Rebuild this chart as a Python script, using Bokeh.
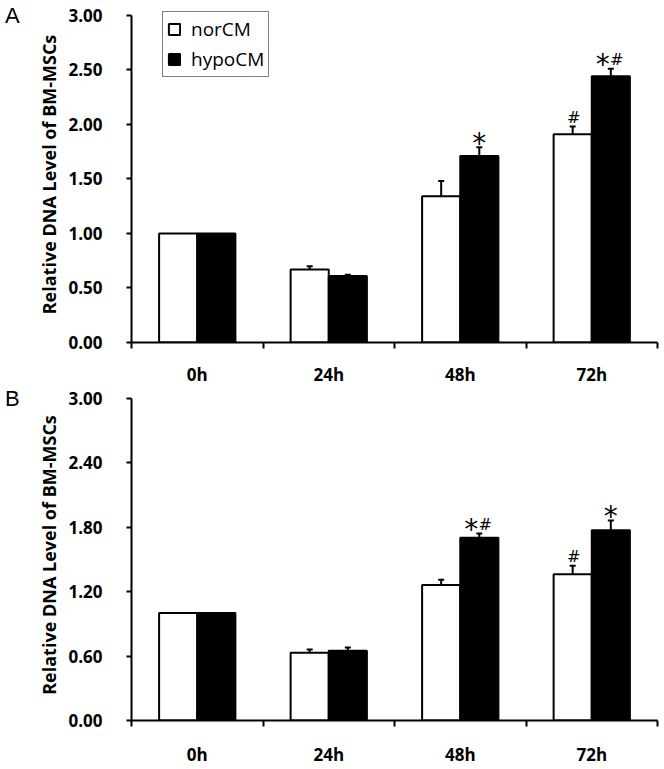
from bokeh.plotting import figure
from bokeh.models import (ColumnDataSource, Whisker, TeeHead, Legend, LegendItem,
                          FixedTicker, NumeralTickFormatter, Range1d, Div)
from bokeh.layouts import column, row
from bokeh.embed import file_html
from bokeh.resources import INLINE
from bokeh.core.properties import value

categories = ["0h", "24h", "48h", "72h"]
series_names = ["norCM", "hypoCM"]
y_title = "Relative DNA Level of BM-MSCs"

# Panel A
A_nor = [1.00, 0.67, 1.34, 1.91]
A_nor_err = [0.00, 0.03, 0.14, 0.07]
A_nor_sig = ["", "", "", "#"]
A_hypo = [1.00, 0.61, 1.71, 2.44]
A_hypo_err = [0.00, 0.01, 0.08, 0.07]
A_hypo_sig = ["", "", "*", "*#"]
A_ticks = [0.0, 0.5, 1.0, 1.5, 2.0, 2.5, 3.0]

# Panel B
B_nor = [1.00, 0.63, 1.26, 1.36]
B_nor_err = [0.00, 0.03, 0.05, 0.08]
B_nor_sig = ["", "", "", "#"]
B_hypo = [1.00, 0.65, 1.70, 1.77]
B_hypo_err = [0.00, 0.03, 0.04, 0.09]
B_hypo_sig = ["", "", "*#", "*"]
B_ticks = [0.0, 0.6, 1.2, 1.8, 2.4, 3.0]

Y_MAX = 3.0          # axis end
Y_VIEW_TOP = 3.08    # a little headroom above the axis end (for the legend)

BAR_W = 0.29
TICK_FONT = "Open Sans"
DIV_W = 30
FIG_W = 632


def make_panel(nor, nor_err, nor_sig, hypo, hypo_err, hypo_sig, yticks,
               height, border_top, border_bottom, standoff, legend):
    p = figure(width=FIG_W, height=height, x_range=Range1d(0, len(categories)),
               y_range=Range1d(0, Y_VIEW_TOP), output_backend="svg", toolbar_location=None,
               min_border_left=101, min_border_right=5,
               min_border_top=border_top, min_border_bottom=border_bottom)
    p.outline_line_color = None
    p.grid.visible = False
    p.background_fill_color = "white"

    centers = [i + 0.5 for i in range(len(categories))]
    renderers = []
    for k, (vals, errs, sigs, fill) in enumerate(
            [(nor, nor_err, nor_sig, "white"), (hypo, hypo_err, hypo_sig, "black")]):
        off = (-0.5 + k) * BAR_W
        xs = [c + off for c in centers]
        src = ColumnDataSource(dict(x=xs, top=vals))
        r = p.vbar(x="x", top="top", width=BAR_W, bottom=0, source=src,
                   fill_color=fill, line_color="black", line_width=2)
        renderers.append(r)
        ex = [x for x, e in zip(xs, errs) if e > 0]
        eu = [v + e for v, e in zip(vals, errs) if e > 0]
        el = [v - e for v, e in zip(vals, errs) if e > 0]
        esrc = ColumnDataSource(dict(base=ex, upper=eu, lower=el))
        w = Whisker(source=esrc, base="base", upper="upper", lower="lower",
                    dimension="height", line_color="black", line_width=2,
                    upper_head=TeeHead(size=6, line_width=2, line_color="black"),
                    lower_head=TeeHead(size=6, line_width=2, line_color="black"))
        p.add_layout(w)
        # significance marks
        sx, sy, so = [], [], []
        hx, hy, ho = [], [], []
        for x, v, e, s in zip(xs, vals, errs, sigs):
            both = ("*" in s) and ("#" in s)
            if "*" in s:
                sx.append(x); sy.append(v + e); so.append(-8 if both else 0)
            if "#" in s:
                hx.append(x); hy.append(v + e); ho.append(6 if both else 1)
        p.text(x="x", y="y", text=value("*"), x_offset="xo", y_offset=-4,
               source=ColumnDataSource(dict(x=sx, y=sy, xo=so)),
               text_font=value("DejaVu Sans"), text_font_size="28px",
               text_align="center", text_baseline="alphabetic", text_color="black")
        p.text(x="x", y="y", text=value("#"), x_offset="xo", y_offset=-9,
               source=ColumnDataSource(dict(x=hx, y=hy, xo=ho)),
               text_font=value("DejaVu Sans"), text_font_size="16px",
               text_align="center", text_baseline="alphabetic", text_color="black")

    # x axis: labels at centres, ticks between categories
    xa = p.xaxis[0]
    xa.ticker = FixedTicker(ticks=centers, minor_ticks=list(range(len(categories) + 1)))
    xa.major_label_overrides = {c: lab for c, lab in zip(centers, categories)}
    xa.major_tick_out = 0
    xa.major_tick_in = 0
    xa.minor_tick_out = 6
    xa.minor_tick_in = 0
    xa.minor_tick_line_width = 2
    xa.minor_tick_line_color = "black"
    xa.axis_line_width = 2
    xa.axis_line_color = "black"
    xa.major_label_text_font = TICK_FONT
    xa.major_label_text_font_style = "bold"
    xa.major_label_text_font_size = "17px"
    xa.major_label_text_color = "black"
    xa.major_label_standoff = standoff

    ya = p.yaxis[0]
    ya.bounds = (0, Y_MAX)
    ya.ticker = FixedTicker(ticks=yticks, minor_ticks=[])
    ya.formatter = NumeralTickFormatter(format="0.00")
    ya.major_tick_out = 5
    ya.major_tick_in = 0
    ya.major_tick_line_width = 2
    ya.major_tick_line_color = "black"
    ya.axis_line_width = 2
    ya.axis_line_color = "black"
    ya.major_label_text_font = TICK_FONT
    ya.major_label_text_font_style = "bold"
    ya.major_label_text_font_size = "17px"
    ya.major_label_text_color = "black"
    ya.major_label_standoff = 24
    ya.axis_label = y_title
    ya.axis_label_text_font = TICK_FONT
    ya.axis_label_text_font_style = "bold"
    ya.axis_label_text_font_size = "18px"
    ya.axis_label_text_color = "black"
    ya.axis_label_standoff = 4

    if legend:
        lg = Legend(items=[LegendItem(label=n, renderers=[r]) for n, r in zip(series_names, renderers)],
                    location=(31, 265), orientation="vertical",
                    glyph_width=14, glyph_height=14, label_standoff=10,
                    padding=4, spacing=4, margin=0,
                    label_text_font="Open Sans", label_text_font_size="19px",
                    label_text_color="black", label_height=20,
                    border_line_color="black", border_line_width=1.5,
                    background_fill_color="white", background_fill_alpha=1)
        p.add_layout(lg)
    return p


def letter_div(letter, height, pad_top):
    html = ('<div style="font-family:\'Liberation Sans\'; font-size:22px; line-height:1; '
            'color:black; padding:%dpx 0 0 5px; margin:0;">%s</div>' % (pad_top, letter))
    return Div(text=html, width=DIV_W, height=height, margin=0)


HA, HB = 388, 380
pA = make_panel(A_nor, A_nor_err, A_nor_sig, A_hypo, A_hypo_err, A_hypo_sig, A_ticks,
                height=HA, border_top=6, border_bottom=46, standoff=14, legend=True)
pB = make_panel(B_nor, B_nor_err, B_nor_sig, B_hypo, B_hypo_err, B_hypo_sig, B_ticks,
                height=HB, border_top=1, border_bottom=47, standoff=16, legend=False)

layout = column(row(letter_div("A", HA, 5), pA, spacing=0),
                row(letter_div("B", HB, 0), pB, spacing=0), spacing=0)
open("out.html", "w").write(file_html(layout, INLINE))
